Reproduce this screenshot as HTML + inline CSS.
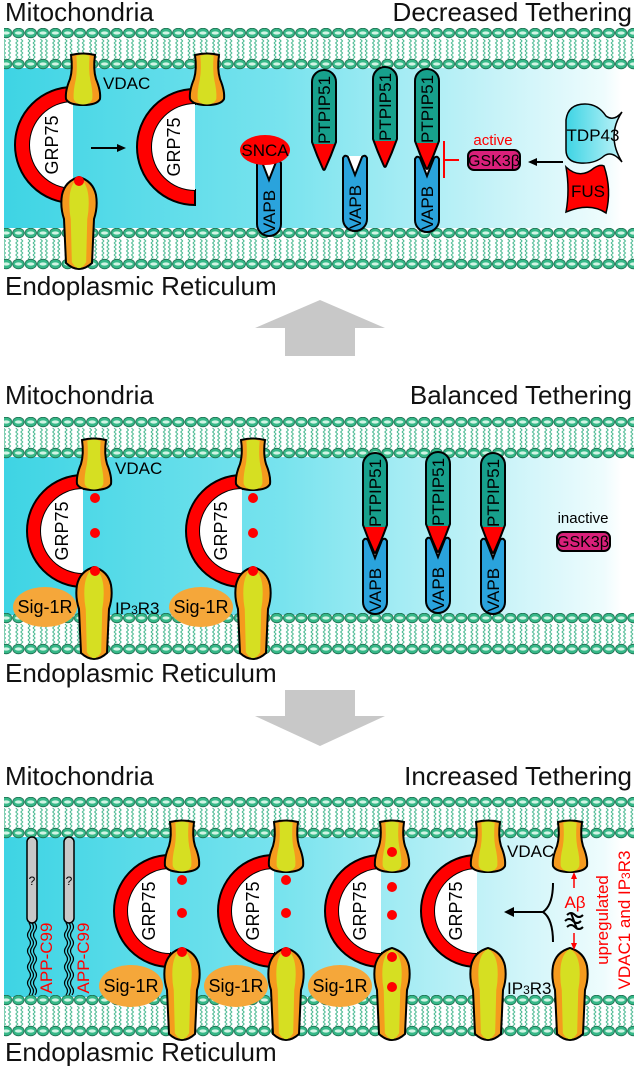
<!DOCTYPE html>
<html><head><meta charset="utf-8"><style>
html,body{margin:0;padding:0;background:#fff}
svg{display:block}
text{font-family:"Liberation Sans",Arial,sans-serif}
</style></head><body>
<svg width="638" height="1066" viewBox="0 0 638 1066" xmlns="http://www.w3.org/2000/svg">
<defs>
<linearGradient id="lum" x1="0" x2="1" y1="0" y2="0">
<stop offset="0" stop-color="#3ed4e4"/><stop offset="0.45" stop-color="#78e3ee"/><stop offset="0.8" stop-color="#c8f3f8"/><stop offset="0.97" stop-color="#eefcfd"/><stop offset="1" stop-color="#ffffff"/>
</linearGradient>
<linearGradient id="tdp" x1="0" x2="1"><stop offset="0" stop-color="#3ed4e4"/><stop offset="1" stop-color="#bff3f8"/></linearGradient>
<linearGradient id="ptpgrad" x1="0" x2="0" y1="0" y2="1"><stop offset="0.74" stop-color="#17a08c"/><stop offset="0.74" stop-color="#ff0000"/></linearGradient>
<pattern id="mem" patternUnits="userSpaceOnUse" width="12.3" height="42">
<path d="M3.5,11 l2,2 l-2,2 l2,2 l-2,2 l2,2 l-2,2 l2,2 l-2,2 l2,2 l-2,2 M8.5,11 l2,2 l-2,2 l2,2 l-2,2 l2,2 l-2,2 l2,2 l-2,2 l2,2 l-2,2" fill="none" stroke="#3cb489" stroke-width="0.9"/>
<ellipse cx="6.15" cy="5" rx="5.7" ry="4.8" fill="#36b888" stroke="#1b6e4f" stroke-width="0.8"/>
<ellipse cx="6.15" cy="5" rx="3.6" ry="1.6" fill="#d2f4e4"/>
<ellipse cx="6.15" cy="36" rx="5.7" ry="4.8" fill="#36b888" stroke="#1b6e4f" stroke-width="0.8"/>
<ellipse cx="6.15" cy="36" rx="3.6" ry="1.6" fill="#d2f4e4"/>
</pattern>
<g id="vdac">
<path d="M-12,0 Q0,-3 12,0 Q10,14 13,24 Q18,36 17,44 Q14,50 0,50 Q-14,50 -17,44 Q-18,36 -13,24 Q-10,14 -12,0 Z" fill="#f59a1e" stroke="#000" stroke-width="2"/>
<path d="M-12,0 Q0,-3 12,0 Q10,14 13,24 Q18,36 17,44 Q14,50 0,50 Q-14,50 -17,44 Q-18,36 -13,24 Q-10,14 -12,0 Z" fill="#d6df22" transform="scale(0.55,0.97) translate(0,1)"/>
</g>
<g id="ip3">
<path d="M0,0 Q14,4 17,18 Q19,30 15,42 L13,86 Q0,98 -13,86 L-15,42 Q-19,30 -17,18 Q-14,4 0,0 Z" fill="#f59a1e" stroke="#000" stroke-width="2"/>
<path d="M0,0 Q14,4 17,18 Q19,30 15,42 L13,86 Q0,98 -13,86 L-15,42 Q-19,30 -17,18 Q-14,4 0,0 Z" fill="#d6df22" transform="scale(0.55,0.98) translate(0,1)"/>
</g>
<g id="ptp">
<path d="M-12,12 A12,12 0 0 1 12,12 L12,72 Q7,86 1,99 Q0,101 -1,99 Q-7,86 -12,72 Z" fill="url(#ptpgrad)" stroke="#000" stroke-width="2"/>
<text transform="translate(6,40) rotate(-90)" text-anchor="middle" font-size="17" fill="#000">PTPIP51</text>
</g>
<g id="vapb">
<path d="M-8,1 L8,1 L0,20 Z" fill="#fff"/>
<path d="M-12,3 Q-10,-1 -7,2 L0,20 L7,2 Q10,-1 12,3 L12,64 A12,12 0 0 1 -12,64 Z" fill="#2aa3dc" stroke="#000" stroke-width="2"/>
<text transform="translate(6,52) rotate(-90)" text-anchor="middle" font-size="17" fill="#000">VAPB</text>
</g>
</defs>

<rect x="4" y="68" width="618" height="160" fill="url(#lum)"/>
<rect x="4" y="457" width="618" height="158" fill="url(#lum)"/>
<rect x="4" y="837" width="618" height="160" fill="url(#lum)"/>
<g transform="translate(0,28)"><rect x="4" y="0" width="630" height="42" fill="url(#mem)"/></g>
<g transform="translate(0,228)"><rect x="4" y="0" width="630" height="42" fill="url(#mem)"/></g>
<g transform="translate(0,417)"><rect x="4" y="0" width="630" height="42" fill="url(#mem)"/></g>
<g transform="translate(0,613)"><rect x="4" y="0" width="630" height="42" fill="url(#mem)"/></g>
<g transform="translate(0,797)"><rect x="4" y="0" width="630" height="42" fill="url(#mem)"/></g>
<g transform="translate(0,995)"><rect x="4" y="0" width="630" height="42" fill="url(#mem)"/></g>

<g font-size="26" fill="#111">
<text x="5" y="21">Mitochondria</text>
<text x="632" y="21" text-anchor="end">Decreased Tethering</text>
<text x="5" y="295">Endoplasmic Reticulum</text>
<text x="5" y="404">Mitochondria</text>
<text x="632" y="404" text-anchor="end">Balanced Tethering</text>
<text x="5" y="682">Endoplasmic Reticulum</text>
<text x="5" y="785">Mitochondria</text>
<text x="632" y="785" text-anchor="end">Increased Tethering</text>
<text x="5" y="1061">Endoplasmic Reticulum</text>
</g>

<path d="M320,300 L385,328 L355,328 L355,356 L285,356 L285,328 L255,328 Z" fill="#c8c8c8"/>
<path d="M320,746 L385,716 L355,716 L355,690 L285,690 L285,716 L255,716 Z" fill="#c8c8c8"/>

<!-- PANEL 1 -->
<path d="M73,87 A58,58 0 0 0 73,203 L73,188 A43,43 0 0 1 73,102 Z" fill="#f00" stroke="#000" stroke-width="2"/>
<path d="M73,102 A43,43 0 0 0 73,188 Z" fill="#fff"/>
<text transform="translate(58,145) rotate(-90)" text-anchor="middle" font-size="18">GRP75</text>
<path d="M195,89 A58,58 0 0 0 195,205 L195,190 A43,43 0 0 1 195,104 Z" fill="#f00" stroke="#000" stroke-width="2"/>
<path d="M195,104 A43,43 0 0 0 195,190 Z" fill="#fff"/>
<text transform="translate(180,147) rotate(-90)" text-anchor="middle" font-size="18">GRP75</text>
<use href="#vdac" x="83" y="55"/>
<use href="#vdac" x="207" y="55"/>
<use href="#ip3" x="79" y="177"/>
<circle cx="79" cy="181" r="5" fill="#f00"/>
<text x="103" y="89" font-size="17">VDAC</text>
<path d="M91,148 L120,148" stroke="#000" stroke-width="2"/><path d="M126,148 L117,144 L117,152 Z" fill="#000"/>

<use href="#vapb" x="269" y="160"/>
<ellipse cx="265" cy="150" rx="25" ry="15" fill="#f00"/>
<text x="265" y="156" text-anchor="middle" font-size="17">SNCA</text>
<use href="#ptp" x="324" y="70"/>
<use href="#vapb" x="355" y="155"/>
<use href="#ptp" x="385" y="67"/>
<use href="#vapb" x="427" y="156"/>
<use href="#ptp" x="427" y="69"/>
<path d="M444,141 L444,178 M444,160 L459,160" stroke="#f00" stroke-width="2" fill="none"/>
<text x="493" y="145" text-anchor="middle" font-size="15" fill="#f00">active</text>
<rect x="468" y="150" width="52" height="20" rx="6" fill="#d9207a" stroke="#000" stroke-width="2"/>
<text x="494" y="166" text-anchor="middle" font-size="16">GSK3β</text>
<path d="M563,162 L534,162" stroke="#000" stroke-width="2"/><path d="M528,162 L537,158 L537,166 Z" fill="#000"/>
<path d="M566,120 Q568,104 585,104 Q598,104 606,116 Q614,122 622,112 Q606,136 622,162 Q612,150 604,156 Q595,164 580,163 Q566,162 566,150 Z" fill="url(#tdp)" stroke="#000" stroke-width="1.5"/>
<text x="593" y="141" text-anchor="middle" font-size="17">TDP43</text>
<path d="M566,167 Q580,180 594,168 Q600,164 604,166 Q612,190 606,213 Q590,202 566,212 Q570,190 566,167 Z" fill="#f00" stroke="#000" stroke-width="1.5"/>
<text x="588" y="197" text-anchor="middle" font-size="17">FUS</text>

<!-- PANEL 2 -->
<path d="M83,475 A56,56 0 0 0 83,587 L83,573 A42,42 0 0 1 83,489 Z" fill="#f00" stroke="#000" stroke-width="2"/>
<path d="M83,489 A42,42 0 0 0 83,573 Z" fill="#fff"/>
<text transform="translate(68,531) rotate(-90)" text-anchor="middle" font-size="18">GRP75</text>
<path d="M242,475 A56,56 0 0 0 242,587 L242,573 A42,42 0 0 1 242,489 Z" fill="#f00" stroke="#000" stroke-width="2"/>
<path d="M242,489 A42,42 0 0 0 242,573 Z" fill="#fff"/>
<text transform="translate(227,531) rotate(-90)" text-anchor="middle" font-size="18">GRP75</text>
<ellipse cx="45" cy="607" rx="32" ry="20" fill="#f5a73a"/>
<text x="45" y="613" text-anchor="middle" font-size="18">Sig-1R</text>
<ellipse cx="201" cy="607" rx="32" ry="20" fill="#f5a73a"/>
<text x="201" y="613" text-anchor="middle" font-size="18">Sig-1R</text>
<use href="#vdac" x="94" y="440"/>
<use href="#vdac" x="253" y="440"/>
<use href="#ip3" x="94" y="567"/>
<use href="#ip3" x="253" y="567"/>
<g fill="#f00"><circle cx="95" cy="498" r="5"/><circle cx="95" cy="533" r="5"/><circle cx="95" cy="571" r="5"/>
<circle cx="253" cy="498" r="5"/><circle cx="253" cy="533" r="5"/><circle cx="253" cy="571" r="5"/></g>
<text x="115" y="474" font-size="17">VDAC</text>
<text x="115" y="614" font-size="17">IP<tspan font-size="12">3</tspan>R3</text>
<use href="#vapb" x="375" y="538"/>
<use href="#ptp" x="375" y="453"/>
<use href="#vapb" x="438" y="537"/>
<use href="#ptp" x="438" y="452"/>
<use href="#vapb" x="493" y="538"/>
<use href="#ptp" x="493" y="453"/>
<text x="583" y="523" text-anchor="middle" font-size="15">inactive</text>
<rect x="557" y="532" width="53" height="19" rx="6" fill="#d9207a" stroke="#000" stroke-width="2"/>
<text x="583" y="547" text-anchor="middle" font-size="16">GSK3β</text>

<!-- PANEL 3 -->
<g>
<rect x="27" y="837" width="10" height="86" rx="5" fill="#c8c8c8" stroke="#000" stroke-width="1.5"/>
<text x="32" y="885" text-anchor="middle" font-size="12" font-family="Liberation Serif">?</text>
<path d="M29,923 q3,4 0,8 q-3,4 0,8 q3,4 0,8 q-3,4 0,8 q3,4 0,8 q-3,4 0,8 q3,4 0,8 q-3,4 0,8 q3,4 0,8 M32,923 q3,4 0,8 q-3,4 0,8 q3,4 0,8 q-3,4 0,8 q3,4 0,8 q-3,4 0,8 q3,4 0,8 q-3,4 0,8 q3,4 0,8 M35,923 q3,4 0,8 q-3,4 0,8 q3,4 0,8 q-3,4 0,8 q3,4 0,8 q-3,4 0,8 q3,4 0,8 q-3,4 0,8 q3,4 0,8" fill="none" stroke="#000" stroke-width="1.2"/>
<text transform="translate(52,958) rotate(-90)" text-anchor="middle" font-size="17" fill="#f00">APP-C99</text>
<rect x="64" y="837" width="10" height="86" rx="5" fill="#c8c8c8" stroke="#000" stroke-width="1.5"/>
<text x="69" y="885" text-anchor="middle" font-size="12" font-family="Liberation Serif">?</text>
<path d="M66,923 q3,4 0,8 q-3,4 0,8 q3,4 0,8 q-3,4 0,8 q3,4 0,8 q-3,4 0,8 q3,4 0,8 q-3,4 0,8 q3,4 0,8 M69,923 q3,4 0,8 q-3,4 0,8 q3,4 0,8 q-3,4 0,8 q3,4 0,8 q-3,4 0,8 q3,4 0,8 q-3,4 0,8 q3,4 0,8 M72,923 q3,4 0,8 q-3,4 0,8 q3,4 0,8 q-3,4 0,8 q3,4 0,8 q-3,4 0,8 q3,4 0,8 q-3,4 0,8 q3,4 0,8" fill="none" stroke="#000" stroke-width="1.2"/>
<text transform="translate(89,958) rotate(-90)" text-anchor="middle" font-size="17" fill="#f00">APP-C99</text>
</g>
<path d="M170,855 A56,56 0 0 0 170,967 L170,953 A42,42 0 0 1 170,869 Z" fill="#f00" stroke="#000" stroke-width="2"/>
<path d="M170,869 A42,42 0 0 0 170,953 Z" fill="#fff"/>
<text transform="translate(155,911) rotate(-90)" text-anchor="middle" font-size="18">GRP75</text>
<path d="M274,855 A56,56 0 0 0 274,967 L274,953 A42,42 0 0 1 274,869 Z" fill="#f00" stroke="#000" stroke-width="2"/>
<path d="M274,869 A42,42 0 0 0 274,953 Z" fill="#fff"/>
<text transform="translate(259,911) rotate(-90)" text-anchor="middle" font-size="18">GRP75</text>
<path d="M381,855 A56,56 0 0 0 381,967 L381,953 A42,42 0 0 1 381,869 Z" fill="#f00" stroke="#000" stroke-width="2"/>
<path d="M381,869 A42,42 0 0 0 381,953 Z" fill="#fff"/>
<text transform="translate(366,911) rotate(-90)" text-anchor="middle" font-size="18">GRP75</text>
<path d="M477,855 A56,56 0 0 0 477,967 L477,953 A42,42 0 0 1 477,869 Z" fill="#f00" stroke="#000" stroke-width="2"/>
<path d="M477,869 A42,42 0 0 0 477,953 Z" fill="#fff"/>
<text transform="translate(462,911) rotate(-90)" text-anchor="middle" font-size="18">GRP75</text>
<g fill="#f5a73a"><ellipse cx="131" cy="986" rx="32" ry="21"/><ellipse cx="236" cy="986" rx="32" ry="21"/><ellipse cx="340" cy="986" rx="32" ry="21"/></g>
<g font-size="18" text-anchor="middle"><text x="131" y="992">Sig-1R</text><text x="236" y="992">Sig-1R</text><text x="340" y="992">Sig-1R</text></g>
<use href="#vdac" x="182" y="822"/><use href="#vdac" x="286" y="822"/><use href="#vdac" x="392" y="822"/><use href="#vdac" x="488" y="822"/><use href="#vdac" x="570" y="822"/>
<use href="#ip3" x="182" y="948"/><use href="#ip3" x="286" y="948"/><use href="#ip3" x="392" y="948"/><use href="#ip3" x="488" y="948"/><use href="#ip3" x="570" y="948"/>
<g fill="#f00">
<circle cx="182" cy="880" r="5"/><circle cx="182" cy="913" r="5"/><circle cx="182" cy="952" r="5"/>
<circle cx="286" cy="880" r="5"/><circle cx="286" cy="913" r="5"/><circle cx="286" cy="952" r="5"/>
<circle cx="392" cy="852" r="5"/><circle cx="392" cy="887" r="5"/><circle cx="392" cy="915" r="5"/><circle cx="392" cy="957" r="5"/><circle cx="392" cy="987" r="5"/>
</g>
<text x="507" y="857" font-size="17">VDAC</text>
<text x="507" y="994" font-size="17">IP<tspan font-size="12">3</tspan>R3</text>
<path d="M553,883 Q553,905 543,912 Q553,919 553,942 M543,912 L512,912" fill="none" stroke="#000" stroke-width="2"/>
<path d="M504,912 L514,907 L514,917 Z" fill="#000"/>
<path d="M574,876 L574,888 M574,933 L574,946" stroke="#f00" stroke-width="1.5"/>
<path d="M574,872 L571,879 L577,879 Z M574,950 L571,943 L577,943 Z" fill="#f00"/>
<text x="575" y="908" text-anchor="middle" font-size="17" fill="#f00">Aβ</text>
<path d="M567,915 q4,-4 8,0 q4,4 8,0 M565,921 q4,-4 8,0 q4,4 8,0 M567,927 q4,-4 8,0 q4,4 8,0 M571,913 L577,929" fill="none" stroke="#000" stroke-width="2"/>
<text transform="translate(608,920) rotate(-90)" text-anchor="middle" font-size="17" fill="#f00">upregulated</text>
<text transform="translate(630,920) rotate(-90)" text-anchor="middle" font-size="17" fill="#f00">VDAC1 and IP<tspan font-size="12">3</tspan>R3</text>
</svg>
</body></html>
